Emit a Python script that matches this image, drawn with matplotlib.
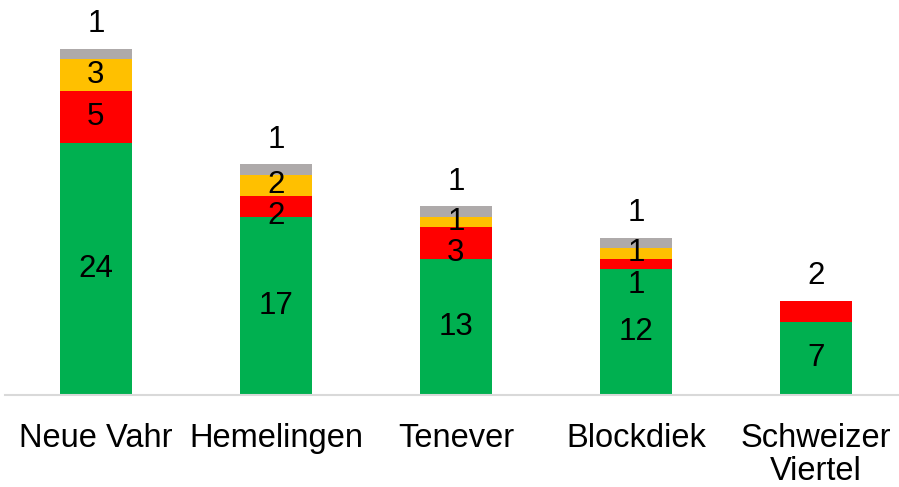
import numpy as np
import matplotlib
matplotlib.use("Agg")
import matplotlib.pyplot as plt

plt.rcParams['font.family'] = ['Liberation Sans', 'DejaVu Sans']

districts = ["Neue Vahr", "Hemelingen", "Tenever", "Blockdiek", "Schweizer\nViertel"]
green = [24, 17, 13, 12, 7]
red = [5, 2, 3, 1, 2]
yellow = [3, 2, 1, 1, 0]
grey = [1, 1, 1, 1, 0]

series = [green, red, yellow, grey]
colors = ["#00B050", "#FF0000", "#FFC000", "#AEAAAA"]

fig = plt.figure(figsize=(8.99, 4.87), dpi=100)
ax = fig.add_axes([5 / 899, 92 / 487, 1 - 5 / 899, 378 / 487])

x = np.arange(len(districts))
bottom = np.zeros(len(districts))
for vals, c in zip(series, colors):
    ax.bar(x, vals, width=0.4, bottom=bottom, color=c, edgecolor='none', zorder=2)
    bottom += np.array(vals)

# data labels: mid-segment, the top segment's label sits above the bar,
# labels that would collide are pushed down
above = 2.3
gap = 3.0
for i in range(len(districts)):
    segs = []
    base = 0
    for vals in series:
        v = vals[i]
        if v > 0:
            segs.append((v, base + v / 2))
        base += v
    top = base
    pos = []
    for k, (v, mid) in enumerate(reversed(segs)):
        y = top + above if k == 0 else mid
        if pos and pos[-1][1] - y < gap:
            y = pos[-1][1] - gap
        pos.append((v, y))
    for v, y in pos:
        ax.text(x[i], y, str(v), ha='center', va='center', fontsize=22.5,
                color='black', zorder=3)

ax.set_xlim(-0.505, 4.462)
ax.set_ylim(0, 36)
ax.set_xticks(x)
ax.set_xticklabels(districts, fontsize=23.5, linespacing=1.08)
ax.tick_params(axis='x', length=0, pad=20)
ax.set_yticks([])
for s in ['top', 'right', 'left']:
    ax.spines[s].set_visible(False)
ax.spines['bottom'].set_color('#D9D9D9')
ax.spines['bottom'].set_linewidth(1.5)

fig.savefig("out.png", dpi=100)
